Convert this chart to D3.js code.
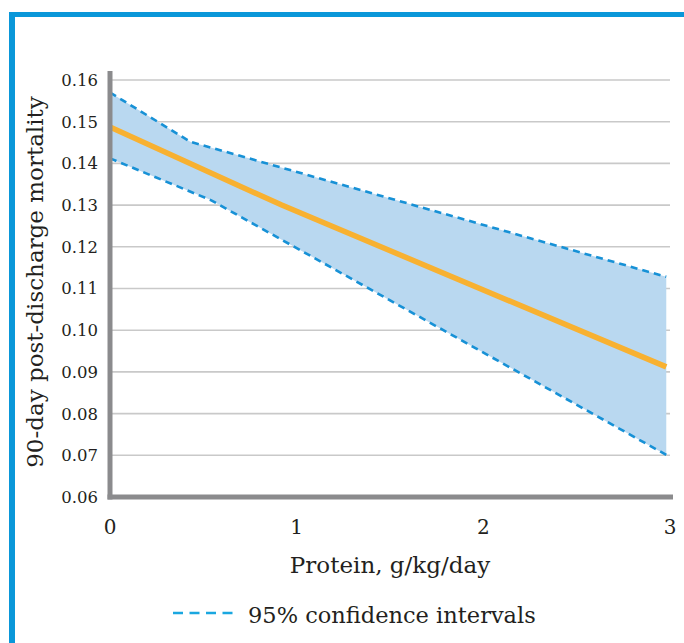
<!DOCTYPE html>
<html>
<head>
<meta charset="utf-8">
<script src="https://cdn.jsdelivr.net/npm/d3@7"></script>
<style>
  body { margin: 0; background: #fff; }
  svg { display: block; font-family: "DejaVu Serif", serif; }
</style>
</head>
<body>
<div id="chart"></div>
<script>
// protein intake (g/kg/day) vs 90-day mortality
const mainX = [0, 0.92, 2.98];
const mainY = [0.1487, 0.130, 0.0912];
const upperX = [0, 0.43, 2.98];
const upperY = [0.157, 0.1452, 0.1128];
const lowerX = [0, 0.54, 2.98];
const lowerY = [0.1412, 0.1312, 0.0701];

const xTicks = [0, 1, 2, 3];
const yTicks = [0.06, 0.07, 0.08, 0.09, 0.10, 0.11, 0.12, 0.13, 0.14, 0.15, 0.16];

const W = 684, H = 643;
const blue = "#0a97d9";

const svg = d3.select("#chart").append("svg")
  .attr("width", W)
  .attr("height", H);

// frame: blue bar along top and left
svg.append("rect").attr("x", 9).attr("y", 12).attr("width", W - 9).attr("height", 5).attr("fill", blue);
svg.append("rect").attr("x", 9).attr("y", 12).attr("width", 6).attr("height", H - 12).attr("fill", blue);

const x = d3.scaleLinear().domain([0, 3]).range([110, 670]);
const y = d3.scaleLinear().domain([0.06, 0.16]).range([497, 80]);

// gridlines
svg.append("g")
  .selectAll("line")
  .data(yTicks.slice(1))
  .join("line")
    .attr("x1", x(0))
    .attr("x2", x(3))
    .attr("y1", d => y(d))
    .attr("y2", d => y(d))
    .attr("stroke", "#c9c9c9")
    .attr("stroke-width", 1.6);

const pts = (xs, ys) => xs.map((v, i) => [v, ys[i]]);
const line = d3.line().x(d => x(d[0])).y(d => y(d[1]));

const upper = pts(upperX, upperY);
const lower = pts(lowerX, lowerY);
const main = pts(mainX, mainY);

// confidence band
svg.append("path")
  .attr("d", line(upper.concat(lower.slice().reverse())) + "Z")
  .attr("fill", "#b9d8f0");

// dashed CI bounds
svg.append("g")
  .attr("fill", "none")
  .attr("stroke", "#1791d6")
  .attr("stroke-width", 2.6)
  .attr("stroke-dasharray", "7,5")
  .selectAll("path")
  .data([upper, lower])
  .join("path")
    .attr("d", line);

// estimate
svg.append("path")
  .attr("d", line(main))
  .attr("fill", "none")
  .attr("stroke", "#f8b131")
  .attr("stroke-width", 5.5);

// axes (thick grey)
const axisColor = "#8b8b8d";
svg.append("line")
  .attr("x1", x(0)).attr("x2", x(0))
  .attr("y1", 71).attr("y2", y(0.06) + 2.5)
  .attr("stroke", axisColor).attr("stroke-width", 5);
svg.append("line")
  .attr("x1", x(0) - 2.5).attr("x2", x(3) + 3)
  .attr("y1", y(0.06)).attr("y2", y(0.06))
  .attr("stroke", axisColor).attr("stroke-width", 5);

// y tick labels
svg.append("g")
  .attr("font-size", 16.5)
  .attr("fill", "#231f20")
  .attr("text-anchor", "end")
  .selectAll("text")
  .data(yTicks)
  .join("text")
    .attr("x", 98)
    .attr("y", d => y(d))
    .attr("dy", "0.36em")
    .text(d => d3.format(".2f")(d));

// x tick labels
svg.append("g")
  .attr("font-size", 20)
  .attr("fill", "#231f20")
  .attr("text-anchor", "middle")
  .selectAll("text")
  .data(xTicks)
  .join("text")
    .attr("x", d => x(d))
    .attr("y", 534)
    .text(d => d);

// axis titles
svg.append("text")
  .attr("x", 390)
  .attr("y", 573)
  .attr("text-anchor", "middle")
  .attr("font-size", 23)
  .attr("fill", "#231f20")
  .text("Protein, g/kg/day");

svg.append("text")
  .attr("transform", "translate(35,282) rotate(-90)")
  .attr("text-anchor", "middle")
  .attr("dy", "0.35em")
  .attr("font-size", 23)
  .attr("fill", "#231f20")
  .text("90-day post-discharge mortality");

// legend
svg.append("line")
  .attr("x1", 173).attr("x2", 237)
  .attr("y1", 613).attr("y2", 613)
  .attr("stroke", "#1aa7e0")
  .attr("stroke-width", 2.6)
  .attr("stroke-dasharray", "10,6.5");
svg.append("text")
  .attr("x", 248)
  .attr("y", 623)
  .attr("font-size", 22.5)
  .attr("fill", "#231f20")
  .text("95% confidence intervals");
</script>
</body>
</html>
